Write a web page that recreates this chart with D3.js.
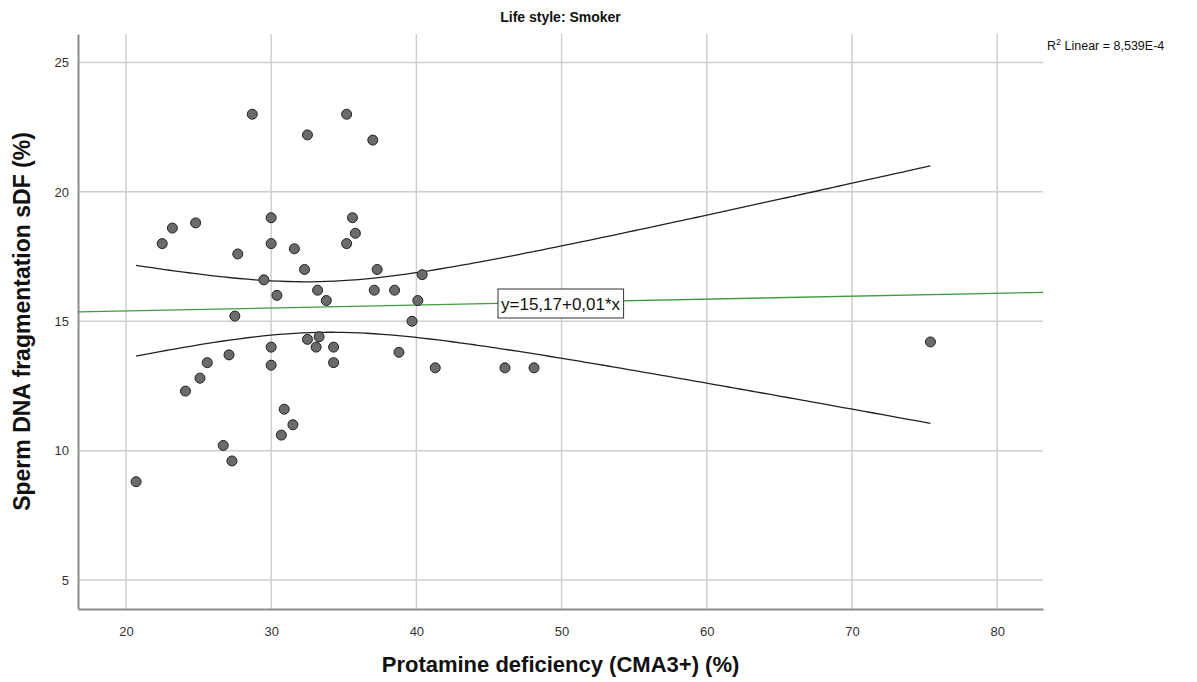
<!DOCTYPE html>
<html>
<head>
<meta charset="utf-8">
<script src="https://cdn.jsdelivr.net/npm/d3@7"></script>
<style>
  body { margin: 0; background: #fff; }
  text { font-family: "Liberation Sans", Arial, sans-serif; }
</style>
</head>
<body>
<svg id="chart" width="1197" height="682"></svg>
<script>
// CMA3+ (%) and sDF (%), one entry per subject
var cma3 = [20.7, 22.5, 23.2, 24.8, 24.1, 25.1, 25.6, 26.7, 27.3, 27.1, 27.5, 27.7,
  28.7, 29.5, 30.0, 30.0, 30.0, 30.0, 30.4, 30.9, 30.7, 31.5, 31.6, 32.3,
  32.5, 32.5, 33.2, 33.1, 33.3, 33.8, 34.3, 34.3, 35.2, 35.2, 35.6, 35.8,
  37.0, 37.1, 37.3, 38.5, 38.8, 39.7, 40.1, 40.4, 41.3, 46.1, 48.1, 75.4];
var sdf = [8.8, 18.0, 18.6, 18.8, 12.3, 12.8, 13.4, 10.2, 9.6, 13.7, 15.2, 17.6,
  23.0, 16.6, 19.0, 18.0, 14.0, 13.3, 16.0, 11.6, 10.6, 11.0, 17.8, 17.0,
  22.2, 14.3, 16.2, 14.0, 14.4, 15.8, 14.0, 13.4, 23.0, 18.0, 19.0, 18.4,
  22.0, 16.2, 17.0, 16.2, 13.8, 15.0, 15.8, 16.8, 13.2, 13.2, 13.2, 14.2];

var xTicks = [20, 30, 40, 50, 60, 70, 80];
var yTicks = [5, 10, 15, 20, 25];

// fit reported by the chart
var fitIntercept = 15.17;
var fitSlope = 0.0114;
var fitLabel = "y=15,17+0,01*x";
var r2Label = "8,539E-4";
var tCrit = 2.013; // t(0.975, n-2)

var svg = d3.select("#chart");
var margin = {left: 78, top: 34, right: 1043, bottom: 609};

var x = d3.scaleLinear().domain([16.7, 83.15]).range([margin.left, margin.right]);
var y = d3.scaleLinear().domain([3.88, 26.1]).range([margin.bottom, margin.top]);

// grid
svg.append("g").selectAll("line").data(xTicks).enter().append("line")
  .attr("x1", d => x(d)).attr("x2", d => x(d))
  .attr("y1", margin.top).attr("y2", margin.bottom)
  .attr("stroke", "#cfcfcf").attr("stroke-width", 1.5);
svg.append("g").selectAll("line").data(yTicks).enter().append("line")
  .attr("x1", margin.left).attr("x2", margin.right)
  .attr("y1", d => y(d)).attr("y2", d => y(d))
  .attr("stroke", "#cfcfcf").attr("stroke-width", 1.5);

// axes
var xAxis = svg.append("g")
  .attr("transform", "translate(0," + margin.bottom + ")")
  .call(d3.axisBottom(x).tickValues(xTicks).tickSize(0).tickPadding(18));
var yAxis = svg.append("g")
  .attr("transform", "translate(" + margin.left + ",0)")
  .call(d3.axisLeft(y).tickValues(yTicks).tickSize(0).tickPadding(9));
[xAxis, yAxis].forEach(function(a) {
  a.select(".domain").attr("stroke", "#8c8c8c").attr("stroke-width", 2);
  a.selectAll("text").attr("font-size", 13).attr("fill", "#333")
    .style("font-family", "'Liberation Sans', Arial, sans-serif");
});

// 95% confidence band for the mean
var n = cma3.length;
var xbar = d3.mean(cma3);
var sxx = d3.sum(cma3, d => (d - xbar) * (d - xbar));
var sse = d3.sum(cma3, (d, i) => {
  var r = sdf[i] - (fitIntercept + fitSlope * d);
  return r * r;
});
var s = Math.sqrt(sse / (n - 2));
var xs = d3.range(0, 101).map(i => d3.min(cma3) + i * (d3.max(cma3) - d3.min(cma3)) / 100);
function half(v) { return tCrit * s * Math.sqrt(1 / n + (v - xbar) * (v - xbar) / sxx); }

var band = d3.line().curve(d3.curveBasis);
svg.append("path")
  .attr("d", band(xs.map(v => [x(v), y(fitIntercept + fitSlope * v + half(v))])))
  .attr("fill", "none").attr("stroke", "#222").attr("stroke-width", 1.3);
svg.append("path")
  .attr("d", band(xs.map(v => [x(v), y(fitIntercept + fitSlope * v - half(v))])))
  .attr("fill", "none").attr("stroke", "#222").attr("stroke-width", 1.3);

// fit line across the whole frame
var xd = x.domain();
svg.append("line")
  .attr("x1", x(xd[0])).attr("y1", y(fitIntercept + fitSlope * xd[0]))
  .attr("x2", x(xd[1])).attr("y2", y(fitIntercept + fitSlope * xd[1]))
  .attr("stroke", "#3f9c3f").attr("stroke-width", 1.3);

// points
svg.append("g").selectAll("circle").data(cma3).enter().append("circle")
  .attr("cx", d => x(d)).attr("cy", (d, i) => y(sdf[i]))
  .attr("r", 5)
  .attr("fill", "#6b6b6b").attr("stroke", "#222").attr("stroke-width", 1);

// equation label
var lab = svg.append("g").attr("transform", "translate(498,289)");
var labBox = lab.append("rect").attr("height", 29)
  .attr("fill", "#fff").attr("stroke", "#333").attr("stroke-width", 1);
var labText = lab.append("text").attr("x", 3).attr("y", 21).attr("font-size", 17).attr("fill", "#111")
  .text(fitLabel);
labBox.attr("width", labText.node().getBBox().width + 6);

// titles
svg.append("text").attr("x", (margin.left + margin.right) / 2).attr("y", 22)
  .attr("text-anchor", "middle").attr("font-size", 14).attr("font-weight", "bold")
  .attr("fill", "#111").text("Life style: Smoker");

var r2 = svg.append("text").attr("x", 1047).attr("y", 50).attr("font-size", 12.5).attr("fill", "#111");
r2.append("tspan").text("R");
r2.append("tspan").attr("font-size", 9).attr("dy", -5).text("2");
r2.append("tspan").attr("dy", 5).text(" Linear = " + r2Label);

svg.append("text").attr("x", (margin.left + margin.right) / 2).attr("y", 672)
  .attr("text-anchor", "middle").attr("font-size", 22).attr("font-weight", "bold")
  .attr("fill", "#111").text("Protamine deficiency (CMA3+) (%)");

svg.append("text")
  .attr("transform", "translate(30," + ((margin.top + margin.bottom) / 2) + ") rotate(-90)")
  .attr("text-anchor", "middle").attr("font-size", 23).attr("font-weight", "bold")
  .attr("fill", "#111").text("Sperm DNA fragmentation sDF (%)");
</script>
</body>
</html>
